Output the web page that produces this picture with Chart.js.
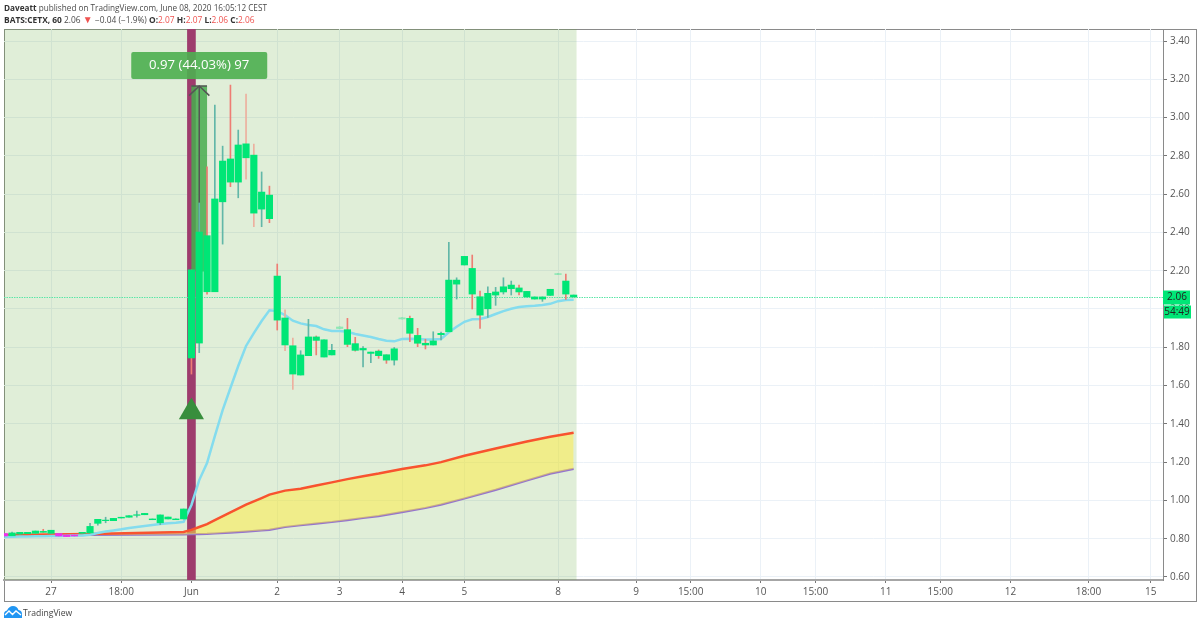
<!DOCTYPE html>
<html>
<head>
<meta charset="utf-8">
<title>BATS:CETX, 60</title>
<script src="https://cdn.jsdelivr.net/npm/chart.js@4"></script>
<style>
    html, body { margin: 0; padding: 0; background: #fff; }
    body { width: 1200px; height: 625px; position: relative; overflow: hidden; font-family: "Open Sans", sans-serif; color: #4a4a4a; }
    #chart { position: absolute; left: 0; top: 0; }
    #frame { position: absolute; left: 4px; top: 29px; width: 1191px; height: 571px; border: 1px solid #8a8a8a; }
    .head { position: absolute; left: 4px; white-space: nowrap; line-height: 12px; }
    .head b { color: #333; font-weight: 700; }
    .head .red { color: #ef5350; }
    .head .down { color: #ef5350; font-size: 10px; line-height: 10px; }
    #logo { position: absolute; left: 4px; top: 605px; }
    #brand { position: absolute; left: 23px; top: 606px; font-size: 8.6px; line-height: 14px; color: #444; }
</style>
</head>
<body>
<div id="frame"></div>
<canvas id="chart" width="1200" height="625"></canvas>
<div class="head" style="top:2px;font-size:8.2px"><b>Daveatt</b> published on TradingView.com, June 08, 2020 16:05:12 CEST</div>
<div class="head" style="top:14px;font-size:8.4px"><b>BATS:CETX, 60</b> 2.06 <span class="down">▼</span> −0.04 (−1.9%) <b>O:</b><span class="red">2.07</span> <b>H:</b><span class="red">2.07</span> <b>L:</b><span class="red">2.06</span> <b>C:</b><span class="red">2.06</span></div>
<svg id="logo" width="18" height="13" viewBox="0 0 18 13">
    <path d="M0 13 L0 9 Q0 6 3 5.5 Q5 1 9 1 Q13 1 14.5 5 Q18 5.5 18 9 L18 13 Z" fill="#2196f3"/>
    <path d="M1 10 L5 6 L8.5 9.5 L12 6 L17 10" fill="none" stroke="#fff" stroke-width="1.4"/>
</svg>
<div id="brand">TradingView</div>

<script>
// bar number 0 is the first hourly candle of June
const bars = [-24, -23, -22, -21, -20, -19, -18, -17, -16, -15, -14, -13, -12, -11, -10, -9, -8, -7, -6, -5, -4, -3, -2, -1,
    0, 1, 2, 3, 4, 5, 6, 7, 8, 9, 10, 11, 12, 13, 14, 15, 16, 17, 18, 19, 20, 21, 22, 23, 24,
    25, 26, 27, 28, 29, 30, 31, 32, 33, 34, 35, 36, 37, 38, 39, 40, 41, 42, 43, 44, 45, 46, 47, 48, 49];

const bodyTop = [0.827, 0.830, 0.833, 0.833, 0.840, 0.838, 0.844, 0.827, 0.819, 0.819, 0.833, 0.864, 0.901, 0.897, 0.906, 0.912, 0.920, 0.925, 0.932, 0.903, 0.924, 0.913, 0.903, 0.955,
    2.204, 2.402, 2.383, 2.575, 2.773, 2.784, 2.857, 2.863, 2.804, 2.611, 2.595, 2.172, 1.953, 1.808, 1.760, 1.854, 1.854, 1.839, 1.784, 1.906, 1.892, 1.819, 1.794, 1.775, 1.780,
    1.761, 1.792, 1.954, 1.951, 1.862, 1.821, 1.833, 1.873, 2.151, 2.151, 2.275, 2.212, 2.064, 2.082, 2.089, 2.116, 2.125, 2.110, 2.092, 2.063, 2.063, 2.103, 2.185, 2.146, 2.073];

const bodyBottom = [0.814, 0.815, 0.824, 0.826, 0.828, 0.833, 0.828, 0.814, 0.811, 0.814, 0.828, 0.830, 0.880, 0.894, 0.894, 0.908, 0.912, 0.922, 0.925, 0.899, 0.883, 0.903, 0.899, 0.903,
    1.744, 1.822, 2.090, 2.090, 2.560, 2.663, 2.663, 2.790, 2.501, 2.522, 2.472, 1.942, 1.812, 1.660, 1.655, 1.756, 1.836, 1.749, 1.760, 1.898, 1.815, 1.784, 1.786, 1.768, 1.756,
    1.733, 1.733, 1.948, 1.873, 1.821, 1.812, 1.812, 1.866, 1.881, 2.130, 2.230, 2.078, 1.968, 2.001, 2.073, 2.089, 2.106, 2.089, 2.063, 2.052, 2.052, 2.071, 2.180, 2.078, 2.063];

const wickHigh = [0.827, 0.835, 0.833, 0.833, 0.840, 0.849, 0.844, 0.827, 0.819, 0.819, 0.833, 0.880, 0.901, 0.912, 0.906, 0.912, 0.920, 0.944, 0.932, 0.903, 0.924, 0.913, 0.903, 0.955,
    2.204, 2.554, 2.743, 3.066, 2.851, 3.170, 2.935, 3.123, 2.862, 2.716, 2.642, 2.235, 1.995, 1.848, 1.782, 1.946, 1.859, 1.839, 1.815, 1.906, 1.951, 1.852, 1.803, 1.775, 1.786,
    1.761, 1.799, 1.954, 1.963, 1.899, 1.842, 1.881, 1.880, 2.348, 2.163, 2.275, 2.282, 2.094, 2.116, 2.113, 2.163, 2.146, 2.125, 2.092, 2.063, 2.063, 2.103, 2.185, 2.183, 2.073];

const wickLow = [0.814, 0.815, 0.824, 0.826, 0.828, 0.833, 0.828, 0.814, 0.811, 0.814, 0.828, 0.830, 0.871, 0.883, 0.894, 0.908, 0.912, 0.912, 0.925, 0.899, 0.873, 0.903, 0.899, 0.903,
    1.660, 1.772, 2.078, 2.090, 2.339, 2.639, 2.581, 2.679, 2.430, 2.430, 2.451, 1.890, 1.782, 1.580, 1.655, 1.756, 1.760, 1.749, 1.760, 1.898, 1.803, 1.780, 1.698, 1.719, 1.742,
    1.716, 1.707, 1.948, 1.829, 1.803, 1.791, 1.812, 1.838, 1.881, 2.052, 2.230, 2.000, 1.899, 1.956, 2.019, 2.078, 2.073, 2.073, 2.063, 2.052, 2.040, 2.071, 2.180, 2.050, 2.063];

const magentaBars = [-24, -17, -16, -15];
const faintBars = [19, 27, 47];
const redWickBars = [-19, 0, 2, 5, 10, 11, 16, 20, 21, 24, 25, 28, 29, 30, 36, 37, 42, 48];
const lightWickBars = [7, 8, 12, 13];

const emaValues = [0.809, 0.810, 0.811, 0.811, 0.812, 0.812, 0.814, 0.814, 0.815, 0.816, 0.817, 0.820, 0.830, 0.837, 0.843, 0.849, 0.856, 0.861, 0.866, 0.871, 0.876, 0.880, 0.883, 0.888,
    0.976, 1.106, 1.195, 1.336, 1.472, 1.587, 1.702, 1.807, 1.874, 1.937, 1.993, 1.989, 1.968, 1.939, 1.925, 1.916, 1.911, 1.894, 1.885, 1.885, 1.881, 1.869, 1.862, 1.854, 1.843,
    1.834, 1.831, 1.843, 1.845, 1.843, 1.841, 1.841, 1.843, 1.878, 1.907, 1.933, 1.946, 1.948, 1.958, 1.974, 1.989, 2.001, 2.010, 2.014, 2.017, 2.021, 2.027, 2.041, 2.047, 2.048];

const bandBars = [-24, -13, -1, 0, 1, 2, 3, 5, 7, 9, 10, 12, 14, 16, 18, 20, 22, 24, 27, 30, 32, 35, 39, 43, 46, 49];
const upperBand = [0.819, 0.824, 0.835, 0.846, 0.861, 0.876, 0.897, 0.937, 0.978, 1.012, 1.030, 1.051, 1.061, 1.078, 1.094, 1.111, 1.126, 1.140, 1.164, 1.183, 1.200, 1.233, 1.271, 1.308, 1.333, 1.353];
const lowerBand = [0.817, 0.819, 0.822, 0.823, 0.824, 0.825, 0.827, 0.832, 0.837, 0.843, 0.846, 0.861, 0.870, 0.879, 0.887, 0.897, 0.908, 0.918, 0.939, 0.960, 0.978, 1.010, 1.055, 1.104, 1.140, 1.165];

const xTickBars = [-18, -9, 0, 11, 19, 27, 35, 47, 57, 64, 73, 80, 89, 96, 105, 115, 123];
const xTickLabels = ['27', '18:00', 'Jun', '2', '3', '4', '5', '8', '9', '15:00', '10', '15:00', '11', '15:00', '12', '18:00', '15'];
const yTicks = [0.6, 0.8, 1.0, 1.2, 1.4, 1.6, 1.8, 2.0, 2.2, 2.4, 2.6, 2.8, 3.0, 3.2, 3.4];

const xMin = -24.03, xMax = 124.56;
const yMin = 0.584, yMax = 3.463;

const lastPrice = 2.06;
const countdown = '54:49';
const shadeEnd = 49.4;
const signalBar = 0;
const signalPrice = 1.462;
const rangeBar = 1;
const rangeLow = 2.198;
const rangeHigh = 3.165;
const rangeText = '0.97 (44.03%) 97';
const rangeLabelPrice = 3.272;
const arrowHeadBars = [-0.3, 1, 2.3];
const arrowHeadPrices = [3.115, 3.165, 3.115];
const arrowCapBars = [0, 2];

const bodyColor = b => magentaBars.includes(b) ? '#ee2fee' : faintBars.includes(b) ? '#8ee8b4' : '#00e676';
const wickColor = b => redWickBars.includes(b) ? '#ee7d74' : lightWickBars.includes(b) ? '#edb09f' : '#62b7a8';
const zip = (xs, ys) => xs.map((x, i) => ({ x: x, y: ys[i] }));

// price tags on the axis and the label over the measure tool
const overlayPlugin = {
    id: 'overlay',
    afterDraw(chart) {
        const ctx = chart.ctx;
        const x = chart.scales.x, y = chart.scales.y;
        ctx.save();
        const boxX = x.getPixelForValue(rangeBar), boxY = y.getPixelForValue(rangeLabelPrice);
        ctx.fillStyle = 'rgba(76, 175, 80, 0.9)';
        ctx.beginPath();
        ctx.roundRect(boxX - 68, boxY - 13.5, 136, 27, 2);
        ctx.fill();
        ctx.fillStyle = '#fff';
        ctx.font = '13.2px "Open Sans"';
        ctx.textAlign = 'center';
        ctx.textBaseline = 'middle';
        ctx.fillText(rangeText, boxX, boxY);

        const tagY = y.getPixelForValue(lastPrice);
        ctx.fillStyle = '#00e676';
        ctx.fillRect(1163, tagY - 7, 27, 14);
        ctx.fillRect(1164, tagY + 8, 27, 13);
        ctx.fillStyle = '#222';
        ctx.font = '10px "Open Sans"';
        ctx.fillText(lastPrice.toFixed(2), 1177, tagY);
        ctx.fillText(countdown, 1177, tagY + 14.5);
        ctx.restore();
    }
};

new Chart(document.getElementById('chart'), {
    type: 'line',
    data: {
        datasets: [
            {
                label: 'Shade',
                data: zip([xMin, shadeEnd], [yMax, yMax]),
                borderWidth: 0,
                pointRadius: 0,
                fill: 'start',
                backgroundColor: 'rgba(100, 170, 60, 0.2)',
                order: 20
            },
            {
                label: 'Signal bar',
                type: 'bar',
                data: [{ x: signalBar, y: [yMin, yMax] }],
                backgroundColor: '#9e3c6d',
                barThickness: 8,
                grouped: false,
                order: 19
            },
            {
                label: 'Upper band',
                data: zip(bandBars, upperBand),
                borderColor: '#f8532f',
                borderWidth: 2.5,
                pointRadius: 0,
                fill: { target: '+1' },
                backgroundColor: 'rgba(255, 235, 59, 0.5)',
                order: 14
            },
            {
                label: 'Lower band',
                data: zip(bandBars, lowerBand),
                borderColor: '#9575cd',
                borderWidth: 2.2,
                pointRadius: 0,
                fill: false,
                order: 15
            },
            {
                label: 'Measure',
                type: 'bar',
                data: [{ x: rangeBar, y: [rangeLow, rangeHigh] }],
                backgroundColor: 'rgba(70, 172, 78, 0.85)',
                barThickness: 15,
                grouped: false,
                order: 12
            },
            {
                label: 'Arrow shaft',
                data: zip([rangeBar, rangeBar], [rangeLow, rangeHigh]),
                borderColor: '#555',
                borderWidth: 1.5,
                pointRadius: 0,
                fill: false,
                order: 11
            },
            {
                label: 'Arrow head',
                data: zip(arrowHeadBars, arrowHeadPrices),
                borderColor: '#555',
                borderWidth: 1.5,
                pointRadius: 0,
                fill: false,
                order: 11
            },
            {
                label: 'Arrow cap',
                data: zip(arrowCapBars, [rangeHigh, rangeHigh]),
                borderColor: '#555',
                borderWidth: 1.5,
                pointRadius: 0,
                fill: false,
                order: 11
            },
            {
                label: 'Signal',
                data: [{ x: signalBar, y: signalPrice }],
                showLine: false,
                pointStyle: 'triangle',
                pointRadius: 14.5,
                pointBackgroundColor: '#388e3c',
                pointBorderWidth: 0,
                order: 10
            },
            {
                label: 'Last price',
                data: zip([xMin, xMax], [lastPrice, lastPrice]),
                borderColor: '#5ce6a8',
                borderWidth: 1,
                borderDash: [1.5, 1],
                pointRadius: 0,
                fill: false,
                order: 9
            },
            {
                label: 'EMA',
                data: zip(bars, emaValues),
                borderColor: '#84dcee',
                borderWidth: 2.5,
                pointRadius: 0,
                fill: false,
                order: 6
            },
            {
                label: 'Wicks',
                type: 'bar',
                data: bars.map((b, i) => ({ x: b, y: [wickLow[i], wickHigh[i]] })),
                backgroundColor: bars.map(wickColor),
                barThickness: 1,
                grouped: false,
                order: 5
            },
            {
                label: 'Candles',
                type: 'bar',
                data: bars.map((b, i) => ({ x: b, y: [bodyBottom[i], bodyTop[i]] })),
                backgroundColor: bars.map(bodyColor),
                barThickness: 6.5,
                grouped: false,
                order: 4
            }
        ]
    },
    options: {
        responsive: false,
        animation: false,
        // the big triangle marker would otherwise push the plot area in
        layout: { autoPadding: false, padding: { left: 4, top: 29, right: 4, bottom: 25 } },
        plugins: {
            legend: { display: false },
            tooltip: { enabled: false },
            title: { display: false }
        },
        scales: {
            x: {
                type: 'linear',
                offset: false,
                min: xMin,
                max: xMax,
                afterFit(scale) { scale.height = 20; },
                afterBuildTicks(scale) { scale.ticks = xTickBars.map(v => ({ value: v })); },
                grid: { offset: false, color: '#ebf1f7', tickColor: '#777', tickLength: 3 },
                border: { color: '#a6a6a6', width: 2 },
                ticks: {
                    autoSkip: false,
                    maxRotation: 0,
                    padding: 3,
                    color: '#555',
                    font: { size: 10, family: 'Open Sans' },
                    callback(val) { return xTickLabels[xTickBars.indexOf(val)]; }
                }
            },
            y: {
                position: 'right',
                min: yMin,
                max: yMax,
                afterFit(scale) { scale.width = 33; },
                afterBuildTicks(scale) { scale.ticks = yTicks.map(v => ({ value: v })); },
                grid: { color: '#ebf1f7', tickColor: '#777', tickLength: 4 },
                border: { color: '#8a8a8a', width: 1 },
                ticks: {
                    padding: 3,
                    color: '#555',
                    font: { size: 10, family: 'Open Sans' },
                    callback(val) { return val.toFixed(2); }
                }
            }
        }
    },
    plugins: [overlayPlugin]
});
</script>
</body>
</html>
